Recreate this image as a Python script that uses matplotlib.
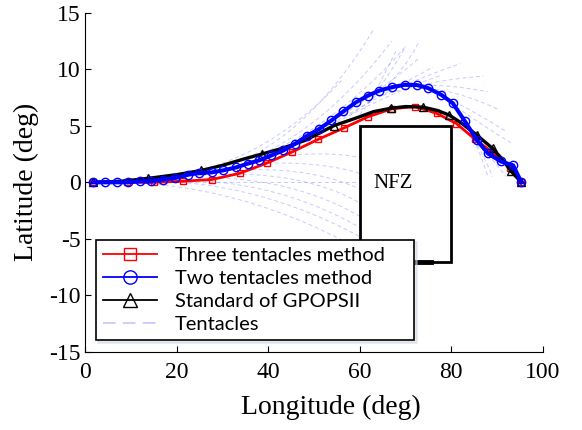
import numpy as np
import matplotlib.pyplot as plt
from matplotlib.patches import Rectangle

plt.rcParams['axes.unicode_minus'] = False

# three tentacles method (red, squares)
red_x = [1.8, 9.1, 15.0, 21.4, 27.7, 33.8, 39.7, 45.3, 50.9, 56.5, 61.8, 67.0, 72.1, 76.8, 81.1, 85.2, 88.8, 92.8, 95.3]
red_y = [0.0, 0.0, 0.0, 0.1, 0.25, 0.8, 1.7, 2.7, 3.8, 4.8, 5.8, 6.5, 6.7, 6.1, 5.2, 3.8, 2.7, 1.3, 0.0]

# two tentacles method (blue, circles)
blue_x = [1.8, 4.35, 6.9, 9.4, 12.0, 14.5, 17.0, 19.7, 22.5, 25.0, 27.7, 30.2, 33.0, 35.5, 38.0, 40.7,
          43.3, 45.9, 48.5, 51.1, 53.8, 56.4, 59.1, 61.7, 64.3, 67.0, 69.8, 72.5, 75.0, 77.8, 80.3, 83.0,
          85.5, 88.0, 90.8, 93.5, 95.3]
blue_y = [0.0, 0.0, 0.0, 0.0, 0.09, 0.09, 0.24, 0.38, 0.67, 0.83, 0.88, 1.06, 1.32, 1.65, 1.94, 2.38,
          2.82, 3.41, 4.12, 4.71, 5.47, 6.27, 7.06, 7.65, 8.12, 8.41, 8.62, 8.6, 8.32, 7.74, 7.0, 5.38,
          3.77, 2.55, 1.85, 1.5, 0.0]

# GPOPSII reference (black, triangles at marked indices)
gp_x = [1.8, 8.0, 13.8, 20.0, 25.4, 30.0, 35.0, 38.6, 43.0, 48.0, 54.3, 60.0, 63.0, 66.8, 70.0,
        73.8, 77.0, 79.5, 82.0, 85.5, 89.0, 91.0, 93.0, 95.3]
gp_y = [0.0, 0.1, 0.35, 0.68, 1.05, 1.5, 2.1, 2.5, 3.0, 3.7, 5.0, 5.8, 6.25, 6.55, 6.7,
        6.65, 6.35, 5.95, 5.3, 4.2, 3.0, 2.1, 1.0, 0.0]
gp_marks = [0, 2, 4, 7, 10, 13, 15, 17, 19, 20, 22, 23]

# tentacles: start point, control point, end point (quadratic curves)
tent_x0 = [1.8, 30, 35, 40, 45, 50, 55, 58, 62, 20,
           10, 15, 20, 25, 30, 35, 40, 45,
           65, 70, 75, 78, 80, 83, 85, 88, 60, 68]
tent_y0 = [0.0, 1.3, 1.9, 2.6, 3.3, 4.3, 5.3, 6.0, 7.0, 0.6,
           0.0, 0.1, 0.2, 0.4, 0.7, 1.1, 1.7, 2.4,
           7.7, 8.5, 8.3, 7.7, 7.0, 5.4, 3.8, 2.5, 6.0, 8.3]
tent_cx = [30, 48, 52, 56, 60, 63, 66, 68, 65, 40,
           35, 38, 42, 45, 48, 50, 52, 54,
           75, 78, 82, 84, 85, 86, 87.5, 90, 65, 75]
tent_cy = [0.0, 3.5, 4.5, 5.5, 6.5, 7.3, 7.8, 8.5, 9.2, 2.0,
           -0.5, 0.0, 0.2, 0.5, 0.9, 1.3, 1.8, 2.7,
           9.0, 8.8, 8.0, 6.5, 5.5, 3.0, 2.0, 1.5, 8.5, 9.5]
tent_x1 = [60, 63, 67, 70, 73, 76, 78, 73, 68, 56,
           58, 60, 60, 60, 60, 60, 60, 60,
           87, 88, 90, 92, 93, 88, 89, 92, 70, 82]
tent_y1 = [0.0, 13.5, 12.5, 12.0, 11.0, 10.2, 9.5, 12.5, 11.7, 9.0,
           -5.5, -4.8, -4.0, -3.0, -1.8, -0.6, 0.8, 2.2,
           9.4, 8.0, 6.5, 4.5, 3.5, 0.5, 0.5, 0.5, 12.0, 10.5]

fig = plt.figure(figsize=(5.82, 4.3), dpi=100)
ax = fig.add_axes([0.146, 0.1814, 0.7869, 0.7891])

t = np.linspace(0, 1, 60)
for i in range(len(tent_x0)):
    xs = (1 - t) ** 2 * tent_x0[i] + 2 * (1 - t) * t * tent_cx[i] + t ** 2 * tent_x1[i]
    ys = (1 - t) ** 2 * tent_y0[i] + 2 * (1 - t) * t * tent_cy[i] + t ** 2 * tent_y1[i]
    ax.plot(xs, ys, color=(0.3, 0.3, 1.0), alpha=0.3, lw=0.7, dashes=(4, 3), zorder=1,
            label='Tentacles' if i == 0 else None)

ax.add_patch(Rectangle((60, -7), 20, 12, fill=False, ec='black', lw=2, zorder=2))
ax.plot([71.5, 75.5], [-7, -7], color='black', lw=3.5, zorder=2)
ax.text(67.2, -0.5, 'NFZ', fontsize=15, family='Liberation Serif', ha='center', va='baseline')

ax.plot(red_x, red_y, color='red', lw=2, marker='s', ms=5, mfc='none', mew=1,
        label='Three tentacles method', zorder=3)
ax.plot(gp_x, gp_y, color='black', lw=2.4, marker='^', ms=6, mfc='none', mew=1,
        markevery=gp_marks, label='Standard of GPOPSII', zorder=4)
ax.plot(blue_x, blue_y, color='blue', lw=2.9, marker='o', ms=6, mfc='none', mew=1,
        label='Two tentacles method', zorder=5)

ax.set_xlim(0, 100)
ax.set_ylim(-15, 15)
ax.set_xticks([0, 20, 40, 60, 80, 100])
ax.set_yticks([-15, -10, -5, 0, 5, 10, 15])
for s in ['top', 'right']:
    ax.spines[s].set_visible(False)
ax.tick_params(direction='in', length=4, width=0.8, labelsize=17, pad=3)
ax.tick_params(axis='x', pad=7)
for lab in ax.get_xticklabels() + ax.get_yticklabels():
    lab.set_family('Liberation Serif')
ax.set_xlabel('Longitude (deg)', fontsize=20, family='Liberation Serif')
ax.set_ylabel('Latitude (deg)', fontsize=20, family='Liberation Serif')
ax.xaxis.set_label_coords(0.537, -0.125)
ax.yaxis.set_label_coords(-0.10, 0.5)

h, l = ax.get_legend_handles_labels()
order = [1, 3, 2, 0]
leg = ax.legend([h[i] for i in order], [l[i] for i in order], loc='lower left',
                bbox_to_anchor=(0.023, 0.035, 0.695, 0.29), mode='expand',
                borderaxespad=0, fancybox=False,
                edgecolor='black', framealpha=1, prop={'family': 'Lato', 'size': 14.5},
                handlelength=2.7, markerscale=1.6, labelspacing=0.3, borderpad=0.35,
                handletextpad=0.9, shadow={'color': '#cdd6e0', 'ox': 2, 'oy': -2})
leg.get_frame().set_linewidth(1.2)
for ln in leg.get_lines():
    ln.set_linewidth(1.3)
leg.get_lines()[3].set_dashes((7, 4))

fig.savefig('out.png', dpi=100)
